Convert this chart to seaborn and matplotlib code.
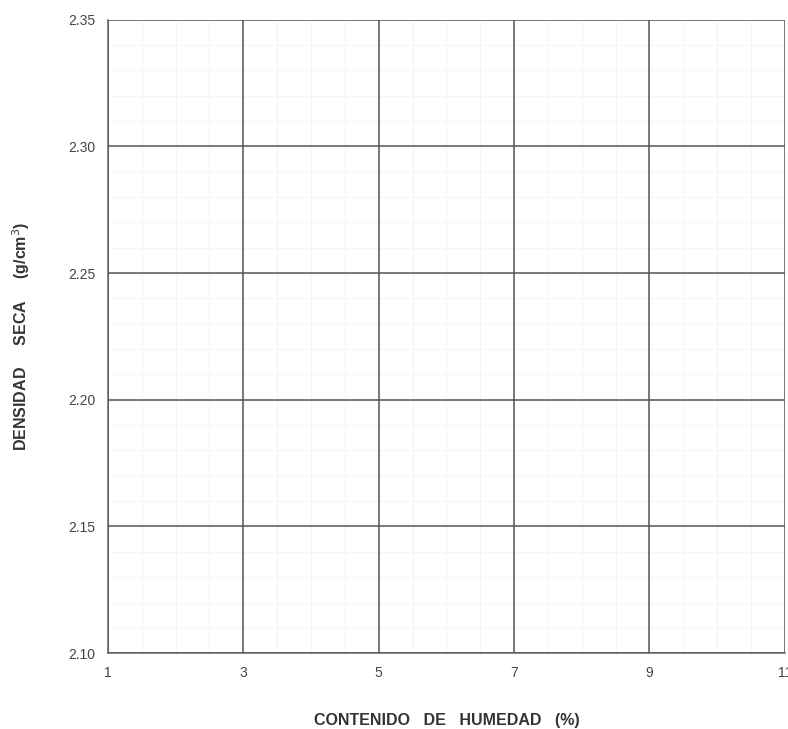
import matplotlib
matplotlib.use("Agg")
import matplotlib.pyplot as plt
import seaborn as sns
import pandas as pd
import numpy as np

# Chart values
x_ticks = [1, 3, 5, 7, 9, 11]
y_ticks = [2.10, 2.15, 2.20, 2.25, 2.30, 2.35]
x_label = "CONTENIDO   DE   HUMEDAD   (%)"
y_label = "DENSIDAD     SECA     (g/cm$^3$)"

# empty data frame: the chart is a blank grid to be filled by hand
data = pd.DataFrame({"humedad": pd.Series([], dtype=float),
                     "densidad": pd.Series([], dtype=float)})

sns.set_style("white")
plt.rcParams['font.family'] = ['Liberation Sans Narrow', 'Liberation Sans', 'DejaVu Sans']

fig = plt.figure(figsize=(7.88, 7.29), dpi=100)
ax = fig.add_axes([0.137, 0.104, 0.859, 0.869])

sns.scatterplot(data=data, x="humedad", y="densidad", ax=ax)

ax.set_xlim(x_ticks[0], x_ticks[-1])
ax.set_ylim(y_ticks[0], y_ticks[-1])
ax.set_xticks(x_ticks)
ax.set_yticks(y_ticks)
ax.set_yticklabels([f"{v:.2f}" for v in y_ticks])

#faint minor grid, kept under the major lines
for xv in np.arange(x_ticks[0], x_ticks[-1], 0.5):
    ax.axvline(xv, color='#f4f4f4', linewidth=0.8, zorder=0.5)
for yv in np.arange(y_ticks[0], y_ticks[-1], 0.01):
    ax.axhline(yv, color='#f6f6f6', linewidth=0.8, zorder=0.5)

ax.grid(which='major', color='#555555', linewidth=1.1)
ax.tick_params(axis='both', which='major', length=3, width=1, color='#777777',
               labelsize=10, labelcolor='#444444', pad=6)
ax.set_axisbelow(False)

for s in ['left', 'bottom']:
    ax.spines[s].set_color('#666666')
    ax.spines[s].set_linewidth(1.1)
for s in ['top', 'right']:
    ax.spines[s].set_visible(False)

ax.set_xlabel(x_label, fontsize=11.5, fontweight='bold', color='#333333', labelpad=24)
ax.set_ylabel(y_label, fontsize=11.5, fontweight='bold', color='#333333')
ax.yaxis.set_label_coords(-0.112, 0.5)

fig.savefig("out.png", dpi=100)
